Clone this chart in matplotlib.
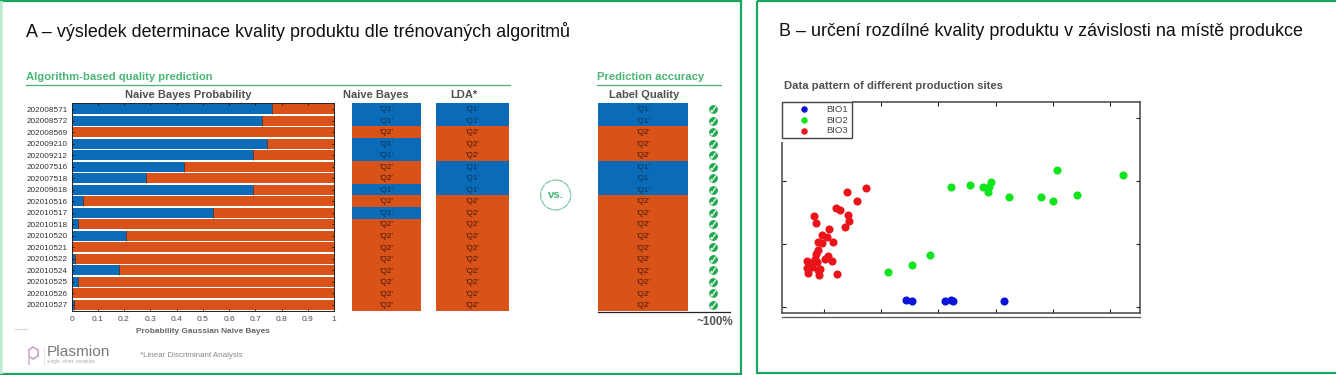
import matplotlib
matplotlib.use("Agg")
import matplotlib.pyplot as plt
from matplotlib.patches import Circle, Polygon, Rectangle
import numpy as np

plt.rcParams['font.family'] = ['Liberation Sans', 'DejaVu Sans']

# ---------- data ----------
samples = ['202008571', '202008572', '202008569', '202009210', '202009212', '202007516',
           '202007518', '202009618', '202010516', '202010517', '202010518', '202010520',
           '202010521', '202010522', '202010524', '202010525', '202010526', '202010527']
prob_q1 = [0.765, 0.725, 0.0, 0.745, 0.69, 0.427, 0.283, 0.69, 0.042, 0.54, 0.023, 0.207,
           0.003, 0.015, 0.182, 0.023, 0.002, 0.01]
naive_bayes = ['Q1', 'Q1', 'Q2', 'Q1', 'Q1', 'Q2', 'Q2', 'Q1', 'Q2', 'Q1'] + ['Q2'] * 8
lda = ['Q1', 'Q1', 'Q2', 'Q2', 'Q2', 'Q1', 'Q1', 'Q1'] + ['Q2'] * 10
label_quality = ['Q1', 'Q1', 'Q2', 'Q2', 'Q2', 'Q1', 'Q1', 'Q1'] + ['Q2'] * 10
prob_ticks = [0, 0.1, 0.2, 0.3, 0.4, 0.5, 0.6, 0.7, 0.8, 0.9, 1]
prob_ticklabels = ['0', '0.1', '0.2', '0.3', '0.4', '0.5', '0.6', '0.7', '0.8', '0.9', '1']

bio1_x = [1.424, 1.535, 2.107, 2.224, 2.259, 3.152]
bio1_y = [0.106, 0.090, 0.095, 0.100, 0.095, 0.095]
bio2_x = [1.109, 1.541, 1.856, 2.218, 2.557, 2.773, 2.884, 2.925, 2.872, 3.234, 3.789, 3.999,
          4.069, 4.419, 5.236]
bio2_y = [0.556, 0.661, 0.820, 1.899, 1.926, 1.899, 1.894, 1.984, 1.815, 1.741, 1.735, 1.683,
          2.169, 1.767, 2.090]
bio3_x = [0.724, 0.397, 0.566, 0.204, 0.280, 0.420, -0.175, 0.438, -0.152, 0.368, 0.088, -0.035,
          0.041, -0.117, 0.158, -0.035, -0.111, -0.152, 0.058, 0.012, 0.128, -0.298, -0.163,
          -0.134, -0.222, -0.274, -0.076, -0.298, -0.292, -0.210, -0.099, 0.228, -0.193, -0.117]
bio3_y = [1.878, 1.825, 1.672, 1.571, 1.534, 1.460, 1.444, 1.360, 1.333, 1.270, 1.238, 1.138,
          1.111, 1.026, 1.026, 1.005, 0.899, 0.831, 0.810, 0.751, 0.720, 0.720, 0.757,
          0.714, 0.688, 0.635, 0.598, 0.608, 0.540, 0.635, 0.503, 0.519, 0.698, 0.582]
scatter_xticks = [0, 1, 2, 3, 4, 5]
scatter_yticks = [0, 1, 2, 3]

# ---------- style ----------
W, H = 1336, 375
BLUE, ORANGE = '#0a6cb8', '#d95319'
GREEN = '#1aa660'
HEAD = '#4ab574'
GREY = '#505050'
COLS = {'Q1': BLUE, 'Q2': ORANGE}
TXT = {'Q1': '#0a2f50', 'Q2': '#3f1608'}

fig = plt.figure(figsize=(W / 100, H / 100), dpi=100, facecolor='white')


def add_axes(x0, y0, x1, y1):
    """Axes from pixel box (top-left origin)."""
    return fig.add_axes([x0 / W, 1 - y1 / H, (x1 - x0) / W, (y1 - y0) / H])


bg = fig.add_axes([0, 0, 1, 1], zorder=0)
bg.set_xlim(0, W)
bg.set_ylim(H, 0)
bg.axis('off')

# panel frames
bg.add_patch(Rectangle((0.5, 1), 740.5, 372.5, fill=False, ec=GREEN, lw=1.6))
bg.plot([0.5, 0.5], [2, 372], color='#c8efdc', lw=2.0)
bg.add_patch(Rectangle((756.5, 1), 585, 371.5, fill=False, ec=GREEN, lw=1.6))

# headings
bg.text(26, 31.5, 'A – výsledek determinace kvality produktu dle trénovaných algoritmů',
        fontsize=12.88, color='#111111', va='center', ha='left')
bg.text(779, 31.5, 'B – určení rozdílné kvality produktu v závislosti na místě produkce',
        fontsize=12.83, color='#111111', va='center', ha='left')

bg.text(26, 76.5, 'Algorithm-based quality prediction', fontsize=8.15, fontweight='bold',
        color=HEAD, va='center')
bg.plot([26, 510], [84.5, 84.5], color=HEAD, lw=0.9)
bg.text(597, 76.5, 'Prediction accuracy', fontsize=8.15, fontweight='bold', color=HEAD, va='center')
bg.plot([597, 721], [84.5, 84.5], color=HEAD, lw=0.9)

bg.text(188.5, 94.5, 'Naive Bayes Probability', fontsize=8.05, fontweight='bold', color=GREY,
        ha='center', va='center')
bg.text(376, 94.5, 'Naive Bayes', fontsize=8.05, fontweight='bold', color=GREY, ha='center', va='center')
bg.text(463.5, 94.5, 'LDA*', fontsize=8.05, fontweight='bold', color=GREY, ha='center', va='center')
bg.text(644.5, 94.5, 'Label Quality', fontsize=8.05, fontweight='bold', color=GREY, ha='center', va='center')
bg.text(784, 86, 'Data pattern of different production sites', fontsize=8.14, fontweight='bold',
        color=GREY, va='center')

# ---------- stacked probability bars ----------
ax = add_axes(71.5, 103.3, 334, 310.7)
y = np.arange(len(samples))
q1 = np.array(prob_q1)
ax.barh(y, q1, height=0.86, color=BLUE, linewidth=0)
ax.barh(y, 1 - q1, left=q1, height=0.86, color=ORANGE, linewidth=0)
ax.vlines(q1, y - 0.43, y + 0.43, color='#27313c', lw=0.5)
ax.set_xlim(0, 1)
ax.set_ylim(len(samples) - 0.5, -0.5)
ax.set_yticks(y)
ax.set_yticklabels(samples, fontsize=5.9, color='#333333')
ax.set_xticks(prob_ticks)
ax.set_xticklabels(prob_ticklabels, fontsize=6, color='#4a4a4a')
ax.tick_params(axis='both', length=1.6, width=0.5, direction='in', top=True, right=True, pad=2.6)
ax.tick_params(axis='x', pad=3.6)
for s in ax.spines.values():
    s.set_linewidth(0.7)
    s.set_color('#222222')
ax.set_xlabel('Probability Gaussian Naive Bayes', fontsize=5.95, fontweight='bold', color='#666666',
              labelpad=4.0)


# ---------- class columns ----------
def class_column(x0, x1, values):
    c = add_axes(x0, 103.3, x1, 310.7)
    rows = np.arange(len(values))
    c.barh(rows, [1] * len(values), height=1.0, color=[COLS[v] for v in values], linewidth=0)
    c.set_xlim(0, 1)
    c.set_ylim(len(values) - 0.5, -0.5)
    c.axis('off')
    for r, v in zip(rows, values):
        c.text(0.5, r + 0.06, f"'{v}'", fontsize=5.8, color=TXT[v], ha='center', va='center')
    return c


class_column(352, 421.3, naive_bayes)
class_column(436, 509.3, lda)
class_column(598.3, 688, label_quality)

# agreement marks
ck = add_axes(700, 103.3, 726, 310.7)
ck.set_xlim(0, 1)
ck.set_ylim(len(samples) - 0.5, -0.5)
ck.axis('off')
rows = np.arange(len(samples))
ck.scatter([0.5] * len(rows), rows, s=40, color='#22a84f', linewidth=0, zorder=2)
ck.plot([0.5] * len(rows), rows, linestyle='none', marker='$\\checkmark$', ms=4.4,
        color='white', mew=0.2, zorder=3)

bg.plot([597.5, 729.5], [311.8, 311.8], color='#222222', lw=0.9)
bg.text(733.5, 322.3, '~100%', fontsize=8.4, fontweight='bold', color='#555555', ha='right', va='center')

# vs. circle
bg.add_patch(Circle((555.7, 195), 15, fill=False, ec='#7cc9a0', lw=0.9, ls=(0, (6, 0.6))))
bg.text(555.7, 195, 'vs.', fontsize=8.2, fontweight='bold', color=HEAD, ha='center', va='center')

# logo and footnote
hexa = np.array([(33, 347), (38, 350), (38, 356), (33, 359), (29, 356), (29, 350)])
bg.add_patch(Polygon(hexa, closed=True, fill=False, ec='#cda2c8', lw=1.2))
bg.plot([28.5, 28.5], [351, 364], color='#d9b4d4', lw=1.2)
bg.plot([43.5, 43.5], [346, 365], color='#e6e6e6', lw=0.6)
bg.text(47, 352.5, 'Plasmion', fontsize=11.1, color='#7a7a7a', va='center')
bg.text(47, 361.7, 'single. short. sensitive', fontsize=3.4, color='#aaaaaa', va='center')
bg.text(140, 355.7, '*Linear Discriminant Analysis', fontsize=5.8, color='#888888', va='center')
bg.plot([15, 27], [329, 329], color='#dddddd', lw=0.9)

# ---------- scatter ----------
sc = add_axes(782.3, 102, 1139.7, 313)
sc.scatter(bio1_x, bio1_y, s=34, color='#0a14d8', linewidth=0, label='BIO1')
sc.scatter(bio2_x, bio2_y, s=34, color='#10e51e', linewidth=0, label='BIO2')
sc.scatter(bio3_x, bio3_y, s=34, color='#e8141a', linewidth=0, label='BIO3')
sc.set_xlim(-0.735, 5.525)
sc.set_ylim(-0.1, 3.25)
sc.set_xticks(scatter_xticks)
sc.set_yticks(scatter_yticks)
sc.set_xticklabels([])
sc.set_yticklabels([])
sc.tick_params(direction='in', length=3, width=0.8, top=True, right=True, color='#222222')
for s in sc.spines.values():
    s.set_linewidth(1.1)
    s.set_color('#444444')
# white margin around the legend, interrupting the spines
sc.add_patch(Rectangle((-0.01, 1 - 39.7 / 211), 73 / 357.4, 39.7 / 211 + 0.01, transform=sc.transAxes,
                       facecolor='white', edgecolor='none', clip_on=False, zorder=4))
leg = sc.legend(loc='upper left', bbox_to_anchor=(0, 1.0, 70 / 357.4, 0), mode='expand',
                fontsize=6.8, frameon=True, fancybox=False,
                framealpha=1, edgecolor='#444444', borderaxespad=0, labelspacing=0.19,
                handletextpad=0.27, borderpad=0.3, handlelength=4.06, markerscale=0.8,
                labelcolor='#444444')
leg.get_frame().set_linewidth(1.0)
bg.plot([782, 1140], [316.7, 316.7], color='#555555', lw=0.9)

fig.savefig('out.png', dpi=100, facecolor='white')
